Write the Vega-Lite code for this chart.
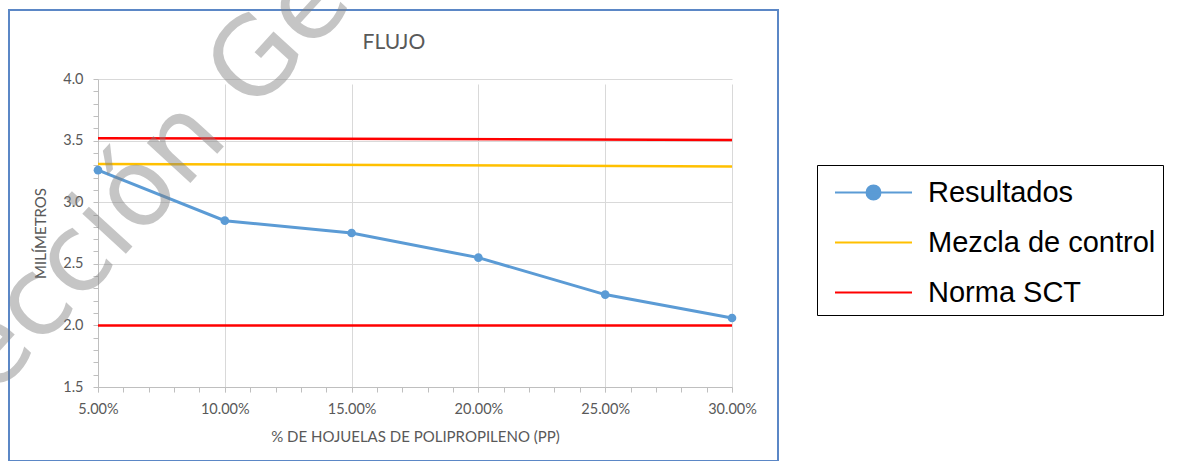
{
  "$schema": "https://vega.github.io/schema/vega-lite/v6.json",
  "width": 769,
  "height": 451,
  "autosize": {"type": "none"},
  "padding": {"left": 9, "top": 10, "right": 405, "bottom": 0},
  "background": "white",
  "config": {
    "view": {"stroke": "#5B87C6", "strokeWidth": 2}
  },
  "layer": [
    {
      "encoding": {
        "x": {
          "field": "pp",
          "type": "quantitative",
          "scale": {"domain": [0.05, 0.30], "range": [89, 723], "nice": false, "zero": false},
          "axis": {
            "values": [0.05,0.06,0.07,0.08,0.09,0.1,0.11,0.12,0.13,0.14,0.15,0.16,0.17,0.18,0.19,0.2,0.21,0.22,0.23,0.24,0.25,0.26,0.27,0.28,0.29,0.3],
            "labelExpr": "round(datum.value*100) % 5 === 0 ? format(datum.value, '.2%') : ''",
            "grid": true,
            "gridColor": "#D9D9D9",
            "gridOpacity": {"condition": {"test": "round(datum.value*100) % 5 === 0", "value": 1}, "value": 0},
            "tickSize": 5,
            "tickColor": "#BFBFBF",
            "domainColor": "#BFBFBF",
            "offset": -74,
            "labelFont": "Lato",
            "labelFontSize": 14.5,
            "labelColor": "#595959",
            "labelPadding": 10,
            "labelOverlap": false,
            "labelFlush": false,
            "labelBound": false,
            "title": "% DE HOJUELAS DE POLIPROPILENO (PP)",
            "titleFont": "Lato",
            "titleFontSize": 15,
            "titleFontWeight": "normal",
            "titleColor": "#595959",
            "titlePadding": 14
          }
        },
        "y": {
          "field": "mm",
          "type": "quantitative",
          "scale": {"domain": [1.5, 4.0], "range": [377, 69], "nice": false, "zero": false},
          "axis": {
            "values": [1.5,1.6,1.7,1.8,1.9,2.0,2.1,2.2,2.3,2.4,2.5,2.6,2.7,2.8,2.9,3.0,3.1,3.2,3.3,3.4,3.5,3.6,3.7,3.8,3.9,4.0],
            "labelExpr": "round(datum.value*10) % 5 === 0 ? format(datum.value, '.1f') : ''",
            "grid": true,
            "gridColor": "#D9D9D9",
            "gridOpacity": {"condition": {"test": "round(datum.value*10) % 5 === 0", "value": 1}, "value": 0},
            "tickSize": 5,
            "tickColor": "#BFBFBF",
            "domainColor": "#BFBFBF",
            "offset": -89,
            "labelFont": "Lato",
            "labelFontSize": 14.5,
            "labelColor": "#595959",
            "labelPadding": 10,
            "labelOverlap": false,
            "labelFlush": false,
            "labelBound": false,
            "title": "MILÍMETROS",
            "titleFont": "Lato",
            "titleFontSize": 15,
            "titleFontWeight": "normal",
            "titleColor": "#595959",
            "titlePadding": 14
          }
        }
      },
      "layer": [
        {
          "data": {"values": [
            {"serie": "Mezcla de control", "linea": "mezcla", "pp": 0.05, "mm": 3.31},
            {"serie": "Mezcla de control", "linea": "mezcla", "pp": 0.30, "mm": 3.29},
            {"serie": "Norma SCT", "linea": "max", "pp": 0.05, "mm": 3.52},
            {"serie": "Norma SCT", "linea": "max", "pp": 0.30, "mm": 3.505},
            {"serie": "Norma SCT", "linea": "min", "pp": 0.05, "mm": 2.0},
            {"serie": "Norma SCT", "linea": "min", "pp": 0.30, "mm": 2.0}
          ]},
          "mark": {"type": "line", "strokeWidth": 2.5},
          "encoding": {
            "detail": {"field": "linea"},
            "color": {
              "field": "serie",
              "type": "nominal",
              "scale": {"domain": ["Resultados", "Mezcla de control", "Norma SCT"], "range": ["#5B9BD5", "#FFC000", "#FF0000"]},
              "legend": {
                "orient": "none",
                "legendX": 808,
                "legendY": 155,
                "title": null,
                "strokeColor": "#000000",
                "fillColor": "#FFFFFF",
                "padding": 7,
                "rowPadding": 14,
                "symbolSize": 1482.25,
                "symbolStrokeWidth": 2,
                "symbolOpacity": 1,
                "symbolFillColor": "#5B9BD5",
                "symbolOffset": 29,
                "labelOffset": 34,
                "labelFont": "Liberation Sans",
                "labelFontSize": 29,
                "labelColor": "#000000",
                "labelLimit": 600
              }
            }
          }
        },
        {
          "data": {"values": [
            {"serie": "Resultados", "pp": 0.05, "mm": 3.26},
            {"serie": "Resultados", "pp": 0.10, "mm": 2.85},
            {"serie": "Resultados", "pp": 0.15, "mm": 2.75},
            {"serie": "Resultados", "pp": 0.20, "mm": 2.55},
            {"serie": "Resultados", "pp": 0.25, "mm": 2.25},
            {"serie": "Resultados", "pp": 0.30, "mm": 2.06}
          ]},
          "layer": [
            {"mark": {"type": "line", "strokeWidth": 3}, "encoding": {"color": {"field": "serie", "type": "nominal"}}},
            {"mark": {"type": "point", "filled": true, "size": 75, "opacity": 1}, "encoding": {"color": {"field": "serie", "type": "nominal"}}},
            {
              "mark": {"type": "point", "filled": true, "opacity": 0},
              "encoding": {
                "color": {
                  "field": "serie",
                  "type": "nominal",
                  "legend": {
                    "orient": "none",
                    "legendX": 808,
                    "legendY": 155,
                    "title": null,
                    "strokeColor": "#000000",
                    "fillColor": "#FFFFFF",
                    "padding": 7,
                    "rowPadding": 14,
                    "symbolSize": 1482.25,
                    "symbolStrokeWidth": 2,
                    "symbolOpacity": 1,
                    "symbolFillColor": "#5B9BD5",
                    "symbolOffset": 29,
                    "labelOffset": 34,
                    "labelFont": "Liberation Sans",
                    "labelFontSize": 29,
                    "labelColor": "#000000",
                    "labelLimit": 600
                  }
                },
                "shape": {
                  "field": "serie",
                  "type": "nominal",
                  "scale": {
                    "domain": ["Resultados", "Mezcla de control", "Norma SCT"],
                    "range": ["M-2,0H2M-0.364,0A0.364,0.364,0,1,1,0.364,0A0.364,0.364,0,1,1,-0.364,0Z", "M-2,0H2", "M-2,0H2"]
                  },
                  "legend": {
                    "orient": "none",
                    "legendX": 808,
                    "legendY": 155,
                    "title": null,
                    "strokeColor": "#000000",
                    "fillColor": "#FFFFFF",
                    "padding": 7,
                    "rowPadding": 14,
                    "symbolSize": 1482.25,
                    "symbolStrokeWidth": 2,
                    "symbolOpacity": 1,
                    "symbolFillColor": "#5B9BD5",
                    "symbolOffset": 29,
                    "labelOffset": 34,
                    "labelFont": "Liberation Sans",
                    "labelFontSize": 29,
                    "labelColor": "#000000",
                    "labelLimit": 600
                  }
                }
              }
            }
          ]
        }
      ]
    },
    {
      "data": {"values": [{"texto": "FLUJO"}, {"texto": "Dirección General"}]},
      "encoding": {
        "x": {
          "datum": 0.1667,
          "type": "quantitative",
          "scale": {"domain": [0.05, 0.30], "range": [89, 723], "nice": false, "zero": false},
          "axis": {
            "values": [0.05,0.06,0.07,0.08,0.09,0.1,0.11,0.12,0.13,0.14,0.15,0.16,0.17,0.18,0.19,0.2,0.21,0.22,0.23,0.24,0.25,0.26,0.27,0.28,0.29,0.3],
            "labelExpr": "round(datum.value*100) % 5 === 0 ? format(datum.value, '.2%') : ''",
            "grid": true,
            "gridColor": "#D9D9D9",
            "gridOpacity": {"condition": {"test": "round(datum.value*100) % 5 === 0", "value": 1}, "value": 0},
            "tickSize": 5,
            "tickColor": "#BFBFBF",
            "domainColor": "#BFBFBF",
            "offset": -74,
            "labelFont": "Lato",
            "labelFontSize": 14.5,
            "labelColor": "#595959",
            "labelPadding": 10,
            "labelOverlap": false,
            "labelFlush": false,
            "labelBound": false,
            "title": "% DE HOJUELAS DE POLIPROPILENO (PP)",
            "titleFont": "Lato",
            "titleFontSize": 15,
            "titleFontWeight": "normal",
            "titleColor": "#595959",
            "titlePadding": 14
          }
        },
        "y": {
          "datum": 4.2435,
          "type": "quantitative",
          "scale": {"domain": [1.5, 4.0], "range": [377, 69], "nice": false, "zero": false},
          "axis": {
            "values": [1.5,1.6,1.7,1.8,1.9,2.0,2.1,2.2,2.3,2.4,2.5,2.6,2.7,2.8,2.9,3.0,3.1,3.2,3.3,3.4,3.5,3.6,3.7,3.8,3.9,4.0],
            "labelExpr": "round(datum.value*10) % 5 === 0 ? format(datum.value, '.1f') : ''",
            "grid": true,
            "gridColor": "#D9D9D9",
            "gridOpacity": {"condition": {"test": "round(datum.value*10) % 5 === 0", "value": 1}, "value": 0},
            "tickSize": 5,
            "tickColor": "#BFBFBF",
            "domainColor": "#BFBFBF",
            "offset": -89,
            "labelFont": "Lato",
            "labelFontSize": 14.5,
            "labelColor": "#595959",
            "labelPadding": 10,
            "labelOverlap": false,
            "labelFlush": false,
            "labelBound": false,
            "title": "MILÍMETROS",
            "titleFont": "Lato",
            "titleFontSize": 15,
            "titleFontWeight": "normal",
            "titleColor": "#595959",
            "titlePadding": 14
          }
        },
        "text": {"field": "texto", "type": "nominal"}
      },
      "layer": [
        {
          "transform": [{"filter": "datum.texto === 'FLUJO'"}],
          "mark": {"type": "text", "font": "Lato", "fontSize": 21, "align": "center", "baseline": "alphabetic", "color": "#595959"}
        },
        {
          "transform": [{"filter": "datum.texto !== 'FLUJO'"}],
          "mark": {"type": "text", "font": "DejaVu Sans", "fontSize": 108, "angle": 312.5, "align": "center", "baseline": "alphabetic", "color": "#808080", "opacity": 0.45},
          "encoding": {
            "x": {"datum": 0.0961, "type": "quantitative"},
            "y": {"datum": 3.371, "type": "quantitative"}
          }
        }
      ]
    }
  ]
}
